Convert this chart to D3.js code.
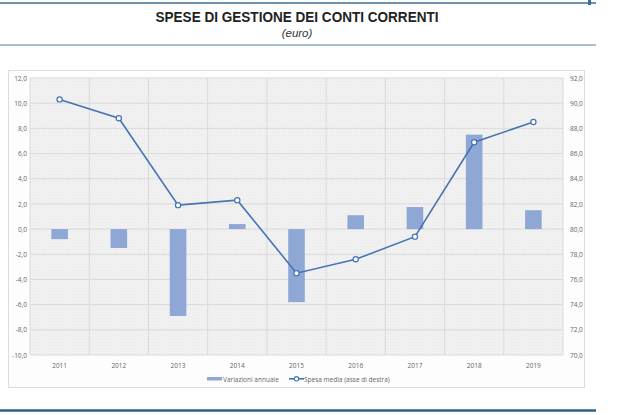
<!DOCTYPE html>
<html><head><meta charset="utf-8">
<script src="https://cdn.jsdelivr.net/npm/d3@7"></script>
<style>body{margin:0;background:#fff}svg{display:block}</style>
</head><body>
<svg id="c" width="640" height="415"></svg>
<script>
const years = ["2011","2012","2013","2014","2015","2016","2017","2018","2019"];
const variazioni = [-0.8,-1.5,-6.9,0.4,-5.8,1.1,1.75,7.5,1.5];
const spesaMedia = [90.3,88.8,81.9,82.3,76.5,77.6,79.4,86.9,88.5];
const leftTicks = [-10,-8,-6,-4,-2,0,2,4,6,8,10,12];
const rightTicks = [70,72,74,76,78,80,82,84,86,88,90,92];

const svg = d3.select("#c");
const fmt = v => d3.format(".1f")(v).replace(".", ",").replace("−","-");

// header lines
svg.append("line").attr("x1",0).attr("x2",596).attr("y1",3).attr("y2",3).attr("stroke","#3d6e99").attr("stroke-width",1.5);
svg.append("rect").attr("x",588).attr("y",0).attr("width",3).attr("height",5).attr("fill","#3d6e99");
svg.append("line").attr("x1",0).attr("x2",596).attr("y1",45).attr("y2",45).attr("stroke","#4f7fa8").attr("stroke-width",1.2);
svg.append("line").attr("x1",0).attr("x2",596).attr("y1",410.5).attr("y2",410.5).attr("stroke","#2f5f8a").attr("stroke-width",2.5);
svg.append("text").attr("x",297).attr("y",22).attr("text-anchor","middle")
  .attr("font-family","Liberation Sans, Arial, sans-serif").attr("font-weight","bold").attr("font-size",14.5).attr("fill","#222")
  .attr("textLength",283).attr("lengthAdjust","spacingAndGlyphs")
  .text("SPESE DI GESTIONE DEI CONTI CORRENTI");
svg.append("text").attr("x",297).attr("y",37).attr("text-anchor","middle")
  .attr("font-family","Liberation Sans, Arial, sans-serif").attr("font-style","italic").attr("font-size",11.5).attr("fill","#333")
  .text("(euro)");

// chart frame
svg.append("rect").attr("x",8.5).attr("y",70.5).attr("width",576).attr("height",317).attr("fill","#fdfdfd").attr("stroke","#dcdcdc");

const m = {l:30, r:563, t:78, b:355};
const x = d3.scaleBand().domain(years).range([m.l, m.r]);
const yL = d3.scaleLinear().domain([-10,12]).range([m.b, m.t]);
const yR = d3.scaleLinear().domain([70,92]).range([m.b, m.t]);

// pattern background
const defs = svg.append("defs");
const pat = defs.append("pattern").attr("id","dots").attr("width",3).attr("height",3).attr("patternUnits","userSpaceOnUse");
pat.append("rect").attr("width",3).attr("height",3).attr("fill","#f3f3f3");
pat.append("rect").attr("width",1).attr("height",1).attr("fill","#e6e6e6");
pat.append("rect").attr("x",1.5).attr("y",1.5).attr("width",1).attr("height",1).attr("fill","#e6e6e6");
svg.append("rect").attr("x",m.l).attr("y",m.t).attr("width",m.r-m.l).attr("height",m.b-m.t).attr("fill","url(#dots)");

// gridlines
svg.append("g").selectAll("line").data(leftTicks).join("line")
  .attr("x1",m.l).attr("x2",m.r).attr("y1",d=>yL(d)).attr("y2",d=>yL(d))
  .attr("stroke","#dadada").attr("stroke-width",1);
const bounds = years.map(d=>x(d)).concat([m.r]);
svg.append("g").selectAll("line").data(bounds).join("line")
  .attr("x1",d=>d).attr("x2",d=>d).attr("y1",m.t).attr("y2",m.b)
  .attr("stroke","#dadada").attr("stroke-width",1);

// axes
const tickFont = g => g.selectAll("text").attr("font-family","Open Sans, DejaVu Sans, sans-serif").attr("font-size",6.5).attr("fill","#666");
const gl = svg.append("g").attr("transform",`translate(${m.l},0)`)
  .call(d3.axisLeft(yL).tickValues(leftTicks).tickFormat(fmt).tickSize(0).tickPadding(3));
gl.select(".domain").remove(); tickFont(gl);
const gr = svg.append("g").attr("transform",`translate(${m.r},0)`)
  .call(d3.axisRight(yR).tickValues(rightTicks).tickFormat(fmt).tickSize(0).tickPadding(7));
gr.select(".domain").remove(); tickFont(gr);
const gx = svg.append("g").attr("transform",`translate(0,${m.b})`)
  .call(d3.axisBottom(x).tickSize(0).tickPadding(8));
gx.select(".domain").remove(); tickFont(gx);

// bars
const bw = x.bandwidth()*0.28;
svg.append("g").selectAll("rect").data(variazioni).join("rect")
  .attr("x",(d,i)=>x(years[i])+x.bandwidth()/2-bw/2)
  .attr("width",bw)
  .attr("y",d=>yL(Math.max(0,d)))
  .attr("height",d=>Math.abs(yL(d)-yL(0)))
  .attr("fill","#8fa7d4");

// line
const line = d3.line().x((d,i)=>x(years[i])+x.bandwidth()/2).y(d=>yR(d));
svg.append("path").datum(spesaMedia).attr("d",line).attr("fill","none").attr("stroke","#4573b3").attr("stroke-width",1.6);
svg.append("g").selectAll("circle").data(spesaMedia).join("circle")
  .attr("cx",(d,i)=>x(years[i])+x.bandwidth()/2).attr("cy",d=>yR(d)).attr("r",2.6)
  .attr("fill","#fff").attr("stroke","#4573b3").attr("stroke-width",1.2);

// legend
const lg = svg.append("g").attr("font-family","Open Sans, DejaVu Sans, sans-serif").attr("font-size",6.5).attr("fill","#666");
lg.append("rect").attr("x",207).attr("y",377).attr("width",15).attr("height",3.5).attr("fill","#8fa7d4");
lg.append("text").attr("x",223).attr("y",381.5).text("Variazioni annuale");
lg.append("line").attr("x1",289).attr("x2",304).attr("y1",378.8).attr("y2",378.8).attr("stroke","#4573b3").attr("stroke-width",1.6);
lg.append("circle").attr("cx",296.5).attr("cy",378.8).attr("r",2.2).attr("fill","#fff").attr("stroke","#4573b3").attr("stroke-width",1.1);
lg.append("text").attr("x",304).attr("y",381.5).text("Spesa media (asse di destra)");
</script>
</body></html>
